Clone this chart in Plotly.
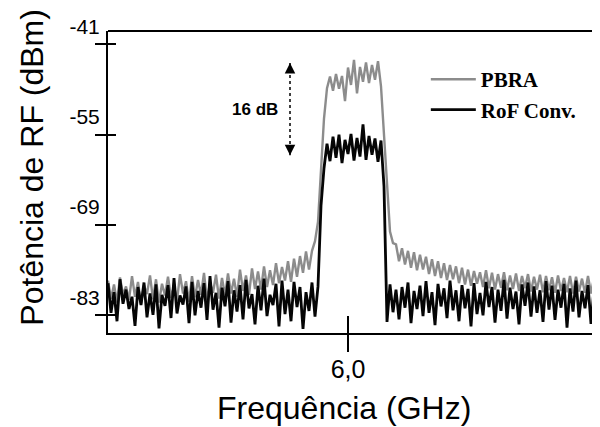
import plotly.graph_objects as go

# sweep frequencies (GHz)
freq = [3.60, 3.63, 3.66, 3.69, 3.72, 3.75, 3.78, 3.81, 3.84, 3.87,
        3.90, 3.93, 3.96, 3.99, 4.02, 4.05, 4.08, 4.11, 4.14, 4.17,
        4.20, 4.23, 4.26, 4.29, 4.32, 4.35, 4.38, 4.41, 4.44, 4.47,
        4.50, 4.53, 4.56, 4.59, 4.62, 4.65, 4.68, 4.71, 4.74, 4.77,
        4.80, 4.83, 4.86, 4.89, 4.92, 4.95, 4.98, 5.01, 5.04, 5.07,
        5.10, 5.13, 5.16, 5.19, 5.22, 5.25, 5.28, 5.31, 5.34, 5.37,
        5.40, 5.43, 5.46, 5.49, 5.52, 5.55, 5.58, 5.61, 5.64, 5.67,
        5.70, 5.73, 5.76, 5.79, 5.82, 5.85, 5.88, 5.91, 5.94, 5.97,
        6.00, 6.03, 6.06, 6.09, 6.12, 6.15, 6.18, 6.21, 6.24, 6.27,
        6.30, 6.33, 6.36, 6.39, 6.42, 6.45, 6.48, 6.51, 6.54, 6.57,
        6.60, 6.63, 6.66, 6.69, 6.72, 6.75, 6.78, 6.81, 6.84, 6.87,
        6.90, 6.93, 6.96, 6.99, 7.02, 7.05, 7.08, 7.11, 7.14, 7.17,
        7.20, 7.23, 7.26, 7.29, 7.32, 7.35, 7.38, 7.41, 7.44, 7.47,
        7.50, 7.53, 7.56, 7.59, 7.62, 7.65, 7.68, 7.71, 7.74, 7.77,
        7.80, 7.83, 7.86, 7.89, 7.92, 7.95, 7.98, 8.01, 8.04, 8.07,
        8.10, 8.13, 8.16, 8.19, 8.22, 8.25, 8.28, 8.31, 8.34, 8.37,
        8.40, 8.43, 8.46, 8.49, 8.52]

# PBRA trace (dBm)
pbra = [-77.6, -80.4, -78.2, -81.0, -77.1, -79.8, -78.5, -80.6, -76.9, -80.1,
        -77.8, -81.2, -78.3, -79.7, -76.8, -80.5, -77.4, -81.0, -78.1, -79.9,
        -77.0, -80.3, -78.4, -80.8, -76.6, -79.6, -77.7, -80.9, -76.9, -80.2,
        -77.5, -79.8, -76.4, -80.7, -77.9, -79.5, -76.7, -80.4, -77.2, -79.9,
        -76.5, -79.6, -77.3, -80.1, -75.9, -79.2, -76.8, -79.8, -75.7, -78.9,
        -76.2, -79.0, -75.4, -78.6, -76.0, -78.3, -74.9, -78.0, -75.5, -77.6,
        -74.6, -77.8, -74.2, -77.0, -73.8, -76.4, -73.1, -75.9,
        -73.0, -71.5, -68.5, -61.0, -52.5, -47.8,
        -46.0, -48.2, -45.6, -47.9, -45.9, -49.8, -44.6, -47.3, -43.4, -48.6,
        -44.5, -46.8, -43.8, -47.0, -44.2, -46.5, -43.6, -47.5,
        -55.0, -64.0, -70.0, -71.8,
        -72.0, -74.6, -72.6, -75.1, -73.0, -75.6, -73.2, -76.0, -73.6, -75.9,
        -73.9, -76.6, -74.3, -76.9, -74.6, -77.2, -74.9, -77.5, -75.2, -77.4,
        -75.4, -78.0, -75.6, -78.2, -75.9, -78.4, -76.1, -78.1, -76.3, -78.6,
        -76.0, -78.8, -76.4, -79.0, -76.6, -78.7, -76.3, -79.1, -76.8, -78.9,
        -76.5, -79.2, -76.9, -78.8, -76.6, -79.3, -77.0, -79.0, -76.7, -79.4,
        -76.9, -79.1, -77.1, -79.5, -76.8, -79.2, -77.2, -79.4, -76.9, -79.6,
        -77.0, -79.3, -77.3, -79.5, -76.9, -79.6, -77.2, -79.4, -77.1]

# RoF conventional trace (dBm)
rof = [-78.0, -82.6, -79.4, -83.9, -77.4, -81.2, -79.0, -82.0, -80.1, -84.6,
       -78.6, -81.4, -77.9, -83.3, -79.6, -82.9, -78.2, -85.0, -79.8, -81.5,
       -78.3, -83.4, -77.2, -82.7, -79.9, -81.3, -78.5, -84.2, -77.8, -83.0,
       -79.2, -81.8, -78.0, -83.7, -76.9, -82.1, -79.5, -84.9, -78.7, -81.6,
       -77.7, -84.1, -79.1, -82.4, -78.3, -83.6, -77.5, -81.9, -79.7, -84.4,
       -78.4, -82.2, -77.3, -83.1, -79.8, -81.4, -78.1, -84.7, -77.6, -82.8,
       -79.0, -83.9, -77.8, -81.7, -78.6, -85.1, -79.4, -82.3, -77.9, -83.2,
       -78.5, -66.0,
       -60.2, -56.4, -59.1, -55.3, -58.6, -55.0, -59.4, -55.8, -58.0, -54.9,
       -59.0, -55.5, -58.4, -53.4, -58.9, -55.2, -58.1, -55.6, -59.2, -55.9,
       -63.0, -84.0,
       -78.2, -82.5, -79.0, -83.6, -78.6, -81.8, -77.9, -84.2, -79.2, -82.0,
       -78.4, -83.1, -77.7, -82.6, -79.4, -84.5, -78.1, -81.6, -78.8, -83.4,
       -77.6, -82.2, -79.1, -83.9, -78.3, -81.9, -78.9, -84.7, -78.0, -82.8,
       -79.5, -83.0, -77.8, -81.7, -78.6, -84.1, -79.0, -82.3, -77.5, -83.5,
       -78.7, -82.0, -79.3, -84.4, -78.2, -81.5, -77.9, -83.2, -78.5, -82.6,
       -79.1, -84.0, -77.7, -82.1, -78.4, -83.7, -79.0, -81.8, -78.1, -84.9,
       -78.8, -82.4, -77.6, -83.3, -79.2, -81.9, -78.3, -84.3, -78.9, -82.7,
       -78.0]

y_ticks = [-41, -55, -69, -83]
y_ticktext = ["-41", "-55", "-69", "-83"]
x_ticks = [6.0]
x_ticktext = ["6,0"]

# "16 dB" marker
gain_label = "16 dB"
gain_x = 5.42
gain_top = -43.9
gain_bottom = -58.2

x_range = [3.6, 8.52]
y_range = [-85.72, -38.94]

sans = "Arial, Liberation Sans, sans-serif"
serif = "Times New Roman, Liberation Serif, serif"

fig = go.Figure()
fig.add_scatter(x=freq, y=pbra, mode="lines", name="PBRA",
                line=dict(color="#8c8c8c", width=2.4), legendgroup="a")
fig.add_scatter(x=freq, y=rof, mode="lines", name="RoF Conv.",
                line=dict(color="#050505", width=2.8), legendgroup="b",
                xaxis="x2", yaxis="y2")

# the page body adds an 8px offset, so margins are trimmed by 8px on top/left
axis_common = dict(showgrid=False, zeroline=False, automargin=False)
fig.update_layout(
    width=600, height=427,
    margin=dict(l=100, r=8, t=23, b=102),
    plot_bgcolor="white", paper_bgcolor="white",
    showlegend=True,
    legend=dict(x=0.646, y=0.907, xanchor="left", yanchor="top",
                bgcolor="rgba(0,0,0,0)", traceorder="grouped", tracegroupgap=0,
                itemwidth=45,
                font=dict(family=serif, size=21, color="black", weight="bold")),
    xaxis=dict(range=x_range, tickvals=x_ticks, ticktext=x_ticktext,
               ticks="outside", ticklen=17, tickwidth=2, tickcolor="black",
               showline=True, linewidth=2, linecolor="black",
               ticklabelstandoff=-4,
               tickfont=dict(family=sans, size=25, color="black"),
               **axis_common),
    yaxis=dict(range=y_range, tickvals=y_ticks, ticktext=y_ticktext,
               ticks="outside", ticklen=11, tickwidth=2, tickcolor="black",
               showline=True, linewidth=2, linecolor="black",
               ticklabelshift=-18, ticklabelstandoff=-9,
               tickfont=dict(family=sans, size=21, color="black"),
               **axis_common),
    xaxis2=dict(range=x_range, overlaying="x", anchor="y2", side="bottom",
                tickvals=x_ticks, ticks="inside", ticklen=17, tickwidth=2,
                tickcolor="black", showticklabels=False, showline=False,
                **axis_common),
    yaxis2=dict(range=y_range, overlaying="y", anchor="x2", side="left",
                tickvals=y_ticks, ticks="inside", ticklen=8, tickwidth=2,
                tickcolor="black", showticklabels=False, showline=False,
                **axis_common),
)

# top frame line
fig.add_shape(type="line", xref="paper", yref="paper", x0=0, x1=1.02, y0=1, y1=1,
              line=dict(color="black", width=2))

# axis titles
fig.add_annotation(text="Potência de RF (dBm)", xref="paper", yref="paper",
                   x=-0.155, y=0.55, xanchor="center", yanchor="middle",
                   textangle=-90, showarrow=False,
                   font=dict(family=sans, size=32, color="black"))
fig.add_annotation(text="Frequência (GHz)", xref="paper", yref="paper",
                   x=0.48, y=-0.247, xanchor="center", yanchor="middle",
                   showarrow=False,
                   font=dict(family=sans, size=32, color="black"))

# 16 dB double arrow
fig.add_shape(type="line", x0=gain_x, x1=gain_x, y0=gain_top, y1=gain_bottom,
              line=dict(color="black", width=1.5, dash="dot"))
fig.add_annotation(x=gain_x, y=gain_top, ax=0, ay=8, text="", showarrow=True,
                   arrowhead=2, arrowsize=1.4, arrowwidth=1.5, arrowcolor="black")
fig.add_annotation(x=gain_x, y=gain_bottom, ax=0, ay=-8, text="", showarrow=True,
                   arrowhead=2, arrowsize=1.4, arrowwidth=1.5, arrowcolor="black")
fig.add_annotation(text=gain_label, x=gain_x - 0.35, y=(gain_top + gain_bottom) / 2,
                   showarrow=False,
                   font=dict(family=sans, size=17, color="black", weight="bold"))

fig.write_html("out.html")
